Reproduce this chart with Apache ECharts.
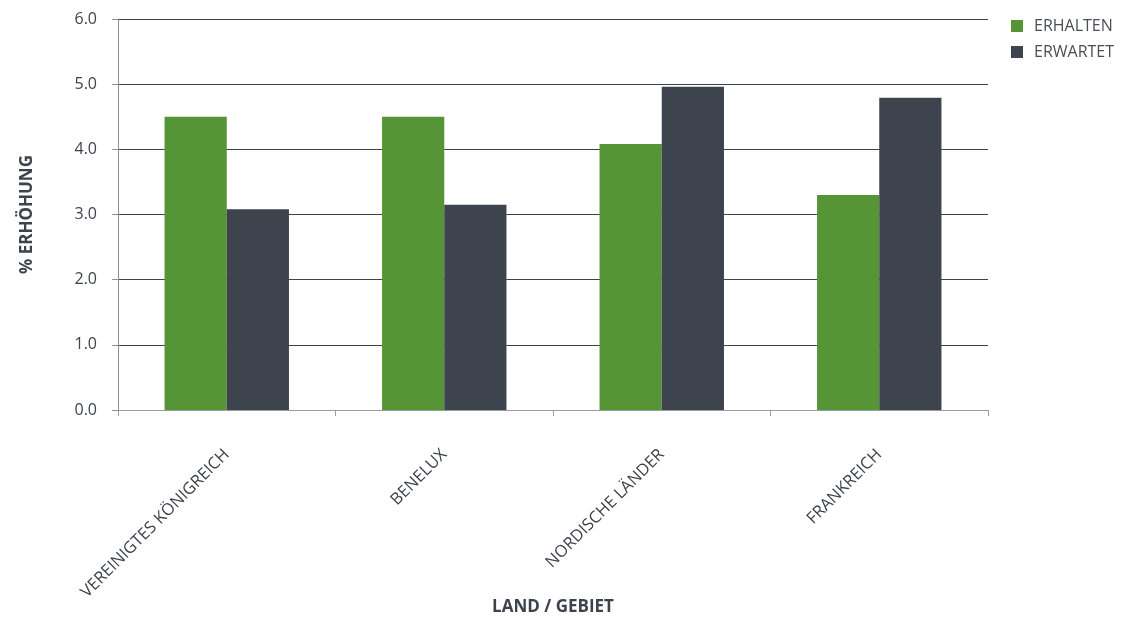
<!DOCTYPE html>
<html>
<head>
<meta charset="utf-8">
<script src="https://cdn.jsdelivr.net/npm/echarts@6/dist/echarts.min.js"></script>
<style>
html,body{margin:0;padding:0;background:#fff;}
#chart{width:1142px;height:618px;}
</style>
</head>
<body>
<div id="chart"></div>
<script>
var categories = ['VEREINIGTES KÖNIGREICH', 'BENELUX', 'NORDISCHE LÄNDER', 'FRANKREICH'];
var erhalten = [4.5, 4.5, 4.08, 3.3];
var erwartet = [3.08, 3.15, 4.96, 4.79];
var yTicks = [0, 1, 2, 3, 4, 5, 6];

var font = '"Open Sans", "Noto Sans", sans-serif';
var chart = echarts.init(document.getElementById('chart'));
chart.setOption({
  animation: false,
  textStyle: { fontFamily: font },
  grid: { left: 118, right: 154, top: 19, bottom: 208, containLabel: false, outerBoundsMode: 'none' },
  legend: {
    orient: 'vertical',
    left: 1006, top: 13,
    itemWidth: 12, itemHeight: 12, itemGap: 10,
    icon: 'rect',
    textStyle: { fontFamily: font, fontSize: 16, color: '#4a4f57', padding: [0, 0, 0, 6] },
    data: ['ERHALTEN', 'ERWARTET']
  },
  xAxis: {
    type: 'category',
    data: categories,
    name: 'LAND / GEBIET',
    nameLocation: 'middle',
    nameGap: 189,
    nameMoveOverlap: false,
    nameTextStyle: { fontFamily: font, fontSize: 17, fontWeight: 'bold', color: '#3d434c' },
    axisLine: { lineStyle: { color: '#9a9ca0', width: 1 } },
    axisTick: { show: true, length: 6, lineStyle: { color: '#9a9ca0' } },
    axisLabel: { rotate: 45, margin: 42, fontSize: 16.5, color: '#3d434c', fontFamily: font, interval: 0 }
  },
  yAxis: {
    type: 'value',
    min: 0, max: 6, interval: 1,
    name: '% ERHÖHUNG',
    nameLocation: 'middle',
    nameGap: 82,
    nameTextStyle: { fontFamily: font, fontSize: 17, fontWeight: 'bold', color: '#3d434c' },
    axisLine: { show: true, lineStyle: { color: '#8e9094', width: 1 } },
    axisTick: { show: true, length: 6, lineStyle: { color: '#8e9094' } },
    axisLabel: {
      margin: 21, fontSize: 16, color: '#3d434c', fontFamily: font,
      formatter: function (v) { return yTicks.indexOf(v) >= 0 ? v.toFixed(1) : ''; }
    },
    splitLine: { show: true, lineStyle: { color: '#3d434c', width: 1 } }
  },
  series: [
    { name: 'ERHALTEN', type: 'bar', data: erhalten, barWidth: '28.6%', barGap: '0%',
      itemStyle: { color: '#569536' } },
    { name: 'ERWARTET', type: 'bar', data: erwartet, barWidth: '28.6%', barGap: '0%',
      itemStyle: { color: '#3d444e' } }
  ]
});
</script>
</body>
</html>
